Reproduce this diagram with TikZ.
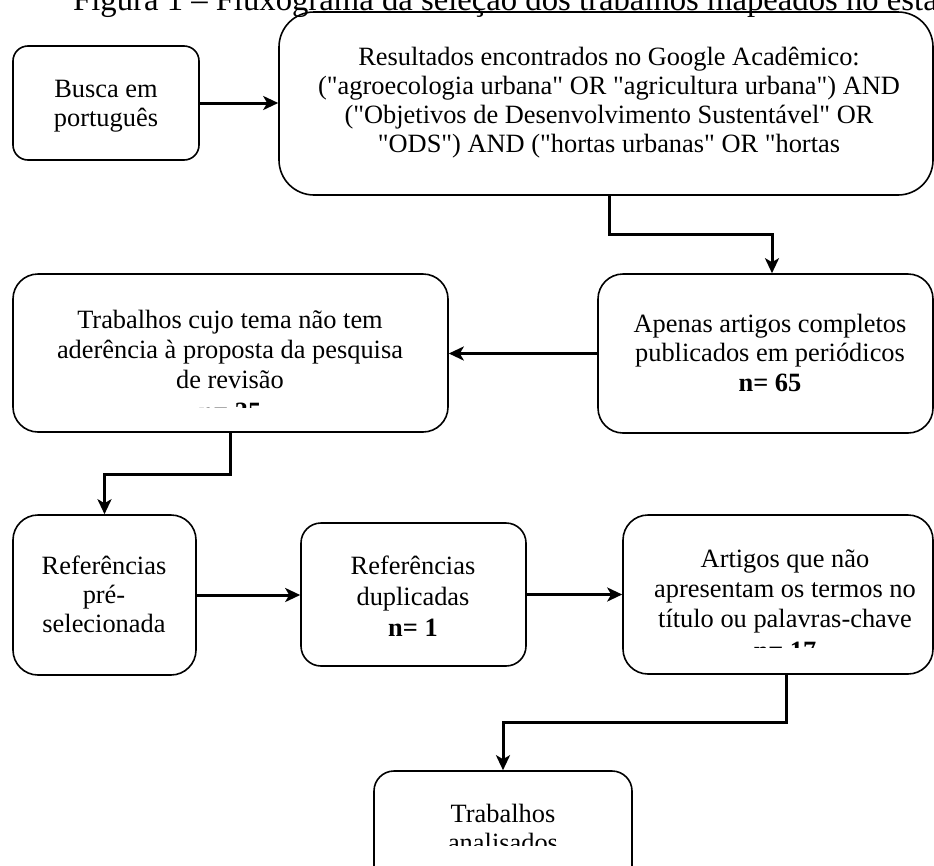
\documentclass[tikz,border=0pt]{standalone}
\usepackage{fontspec}
\setmainfont{Liberation Serif}[Ligatures=TeXOff]
\usetikzlibrary{arrows.meta}
\newcommand\mkbox[6]{%
  \node[boxst, rounded corners=#6pt, minimum width={(#4-#2)*1pt}, minimum height={(#5-#3)*1pt}] (#1) at ({(#2+#4)/2},{(#3+#5)/2}) {};}
\newcommand\txtline[4]{\node[txt] (#1) at (#2,#3) {#4};}
\begin{document}
\begin{tikzpicture}[x=1pt,y=-1pt,
  boxst/.style={draw, line width=1.6pt, inner sep=0pt, fill=none},
  txt/.style={anchor=base, inner sep=0pt, font=\fontsize{26.4}{30}\selectfont},
  conn/.style={line width=3pt, -{Stealth[length=15pt,width=14pt,inset=4pt]}}]
\useasboundingbox (0,0) rectangle (934,865);
\clip (0,0) rectangle (934,865);
\fill[white] (0,0) rectangle (934,865);
% title (cut off at top)
\node[anchor=base west, inner sep=0pt, font=\fontsize{32.7}{36}\selectfont] (title) at (73,10.5) {Figura 1 – Fluxograma da seleção dos trabalhos mapeados no estado};
% boxes
\mkbox{b1}{13}{46}{199}{160}{15}
\mkbox{b2}{279}{12}{933}{195}{35}
\mkbox{b3}{598}{274}{933}{433}{25}
\mkbox{b4}{13}{274}{448}{432}{25}
\mkbox{b5}{13}{515}{196}{675}{25}
\mkbox{b6}{301}{523}{526}{666}{20}
\mkbox{b7}{623}{515}{933}{674}{25}
\mkbox{b8}{374}{771}{632}{905}{20}
% texts
\txtline{t1a}{106}{97}{Busca em}
\txtline{t1b}{106}{126}{português}
\txtline{t2a}{609}{65}{Resultados encontrados no Google Acadêmico:}
\txtline{t2b}{609}{94}{("agroecologia urbana" OR "agricultura urbana") AND}
\txtline{t2c}{609}{123}{("Objetivos de Desenvolvimento Sustentável" OR}
\txtline{t2d}{609}{152}{"ODS") AND ("hortas urbanas" OR "hortas}
\txtline{t3a}{770}{332}{Apenas artigos completos}
\txtline{t3b}{770}{361.5}{publicados em periódicos}
\txtline{t3c}{770}{391}{\bfseries n= 65}
\txtline{t4a}{230}{328.5}{Trabalhos cujo tema não tem}
\txtline{t4b}{230}{358}{aderência à proposta da pesquisa}
\txtline{t4c}{230}{388}{de revisão}
\begin{scope}
\clip (0,0) rectangle (934,407);
\txtline{t4d}{230}{420}{\bfseries n= 35}
\end{scope}
\txtline{t5a}{104}{574}{Referências}
\txtline{t5b}{104}{603}{pré-}
\txtline{t5c}{104}{632}{selecionada}
\txtline{t6a}{413}{574}{Referências}
\txtline{t6b}{413}{605}{duplicadas}
\txtline{t6c}{413}{636}{\bfseries n= 1}
\txtline{t7a}{785}{567}{Artigos que não}
\txtline{t7b}{785}{597}{apresentam os termos no}
\txtline{t7c}{785}{627}{título ou palavras-chave}
\begin{scope}
\clip (0,0) rectangle (934,647);
\txtline{t7d}{785}{659}{\bfseries n= 17}
\end{scope}
\txtline{t8a}{503}{822}{Trabalhos}
\begin{scope}
\clip (0,0) rectangle (934,845);
\txtline{t8b}{503}{851}{analisados}
\end{scope}
% connectors
\draw[conn] (b1.east) -- (b1.east -| b2.west);
\draw[conn] ([xshift=3pt]b2.south) -- ++(0,39) -| ([xshift=6.5pt]b3.north);
\draw[conn] (b3.west) -- (b3.west -| b4.east);
\draw[conn] (b4.south) -- ++(0,42) -| (b5.north);
\draw[conn] (b5.east) -- (b5.east -| b6.west);
\draw[conn] (b6.east) -- (b6.east -| b7.west);
\draw[conn] ([xshift=8pt]b7.south) -- ++(0,48) -| (b8.north);
\end{tikzpicture}
\end{document}
